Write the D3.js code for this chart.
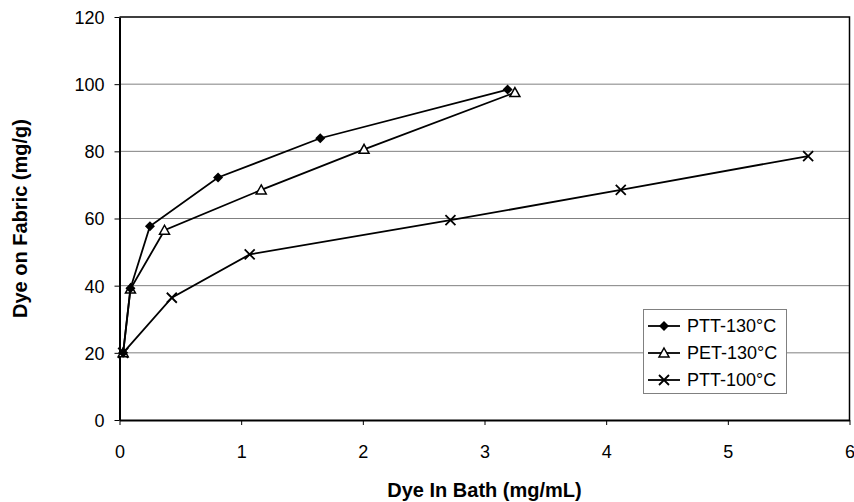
<!DOCTYPE html>
<html>
<head>
<meta charset="utf-8">
<script src="https://cdn.jsdelivr.net/npm/d3@7"></script>
<style>
  body { margin: 0; background: #fff; }
  svg { display: block; font-family: Arial, "Liberation Sans", sans-serif; }
</style>
</head>
<body>
<div id="chart"></div>
<script>
// 値は画像から読み取った推定値
var seriesNames = ["PTT-130°C", "PET-130°C", "PTT-100°C"];
var markerTypes = ["diamond", "triangle", "cross"];

var ptt130X = [0.03, 0.09, 0.25, 0.81, 1.65, 3.19];
var ptt130Y = [20, 39.2, 57.7, 72.2, 83.9, 98.4];

var pet130X = [0.03, 0.09, 0.37, 1.165, 2.01, 3.25];
var pet130Y = [20, 39, 56.5, 68.5, 80.6, 97.5];

var ptt100X = [0.03, 0.43, 1.07, 2.72, 4.12, 5.66];
var ptt100Y = [20, 36.4, 49.3, 59.5, 68.5, 78.6];

var xTicks = [0, 1, 2, 3, 4, 5, 6];
var yTicks = [0, 20, 40, 60, 80, 100, 120];

var xTitle = "Dye In Bath (mg/mL)";
var yTitle = "Dye on Fabric (mg/g)";

var width = 854, height = 502;
var margin = { top: 17, right: 4.5, bottom: 82, left: 119.5 };

var svg = d3.select("#chart")
  .append("svg")
  .attr("width", width)
  .attr("height", height);

var x = d3.scaleLinear().domain([0, 6]).range([margin.left, width - margin.right]);
var y = d3.scaleLinear().domain([0, 120]).range([height - margin.bottom, margin.top]);

// グリッド線
svg.append("g")
  .selectAll("line")
  .data(yTicks.filter(d => d > 0 && d < 120))
  .enter()
  .append("line")
  .attr("x1", x(0))
  .attr("x2", x(6))
  .attr("y1", d => y(d))
  .attr("y2", d => y(d))
  .attr("stroke", "#808080")
  .attr("stroke-width", 1);

// 枠（上と右）
svg.append("path")
  .attr("d", `M${x(0)},${y(120)}H${x(6)}V${y(0)}`)
  .attr("fill", "none")
  .attr("stroke", "#000")
  .attr("stroke-width", 1.5);

// 軸
var xAxis = svg.append("g")
  .attr("transform", `translate(0,${y(0)})`)
  .call(d3.axisBottom(x).tickValues(xTicks).tickFormat(d3.format("d"))
    .tickSize(5).tickPadding(20).tickSizeOuter(0));
var yAxis = svg.append("g")
  .attr("transform", `translate(${x(0)},0)`)
  .call(d3.axisLeft(y).tickValues(yTicks).tickFormat(d3.format("d"))
    .tickSize(5).tickPadding(10).tickSizeOuter(0));

[xAxis, yAxis].forEach(function(g) {
  g.select(".domain").attr("stroke", "#000").attr("stroke-width", 2);
  g.selectAll(".tick line").attr("stroke", "#000").attr("stroke-width", 1);
  g.selectAll(".tick text")
    .attr("fill", "#000")
    .style("font-size", "18px")
    .style("font-family", "Arial, 'Liberation Sans', sans-serif");
});
yAxis.selectAll(".tick text").attr("dy", "0.36em");

// 軸タイトル
svg.append("text")
  .attr("x", (x(0) + x(6)) / 2)
  .attr("y", 497)
  .attr("text-anchor", "middle")
  .style("font-size", "20px")
  .style("font-weight", "bold")
  .text(xTitle);

svg.append("text")
  .attr("transform", `translate(27,${(y(0) + y(120)) / 2}) rotate(-90)`)
  .attr("text-anchor", "middle")
  .style("font-size", "20px")
  .style("font-weight", "bold")
  .text(yTitle);

// マーカーを描く関数
function drawMarker(g, type, cx, cy) {
  if (type == "diamond") {
    g.append("path")
      .attr("d", `M${cx},${cy - 5}L${cx + 5},${cy}L${cx},${cy + 5}L${cx - 5},${cy}Z`)
      .attr("fill", "#000");
  } else if (type == "triangle") {
    g.append("path")
      .attr("d", `M${cx},${cy - 5}L${cx + 5},${cy + 4}L${cx - 5},${cy + 4}Z`)
      .attr("fill", "#fff")
      .attr("stroke", "#000")
      .attr("stroke-width", 1.5);
  } else {
    g.append("path")
      .attr("d", `M${cx - 5},${cy - 5}L${cx + 5},${cy + 5}M${cx + 5},${cy - 5}L${cx - 5},${cy + 5}`)
      .attr("stroke", "#000")
      .attr("stroke-width", 1.8);
  }
}

var series = [
  { name: seriesNames[0], marker: markerTypes[0], xs: ptt130X, ys: ptt130Y },
  { name: seriesNames[1], marker: markerTypes[1], xs: pet130X, ys: pet130Y },
  { name: seriesNames[2], marker: markerTypes[2], xs: ptt100X, ys: ptt100Y },
];

var line = d3.line().x(d => x(d[0])).y(d => y(d[1]));

// 線（下から順に）
series.slice().reverse().forEach(function(s) {
  var pts = s.xs.map((v, i) => [v, s.ys[i]]);
  var g = svg.append("g");
  g.append("path")
    .datum(pts)
    .attr("d", line)
    .attr("fill", "none")
    .attr("stroke", "#000")
    .attr("stroke-width", 1.8);
  pts.forEach(p => drawMarker(g, s.marker, x(p[0]), y(p[1])));
});

// 凡例
var legend = svg.append("g");
legend.append("rect")
  .attr("x", 643.5)
  .attr("y", 309.5)
  .attr("width", 143)
  .attr("height", 84)
  .attr("fill", "#fff")
  .attr("stroke", "#808080")
  .attr("stroke-width", 1);

series.forEach(function(s, i) {
  var ly = 326 + i * 27;
  var g = legend.append("g");
  g.append("line")
    .attr("x1", 648).attr("x2", 680)
    .attr("y1", ly).attr("y2", ly)
    .attr("stroke", "#000")
    .attr("stroke-width", 1.8);
  drawMarker(g, s.marker, 664, ly);
  g.append("text")
    .attr("x", 687)
    .attr("y", ly)
    .attr("dy", "0.36em")
    .style("font-size", "18px")
    .text(s.name);
});
</script>
</body>
</html>
